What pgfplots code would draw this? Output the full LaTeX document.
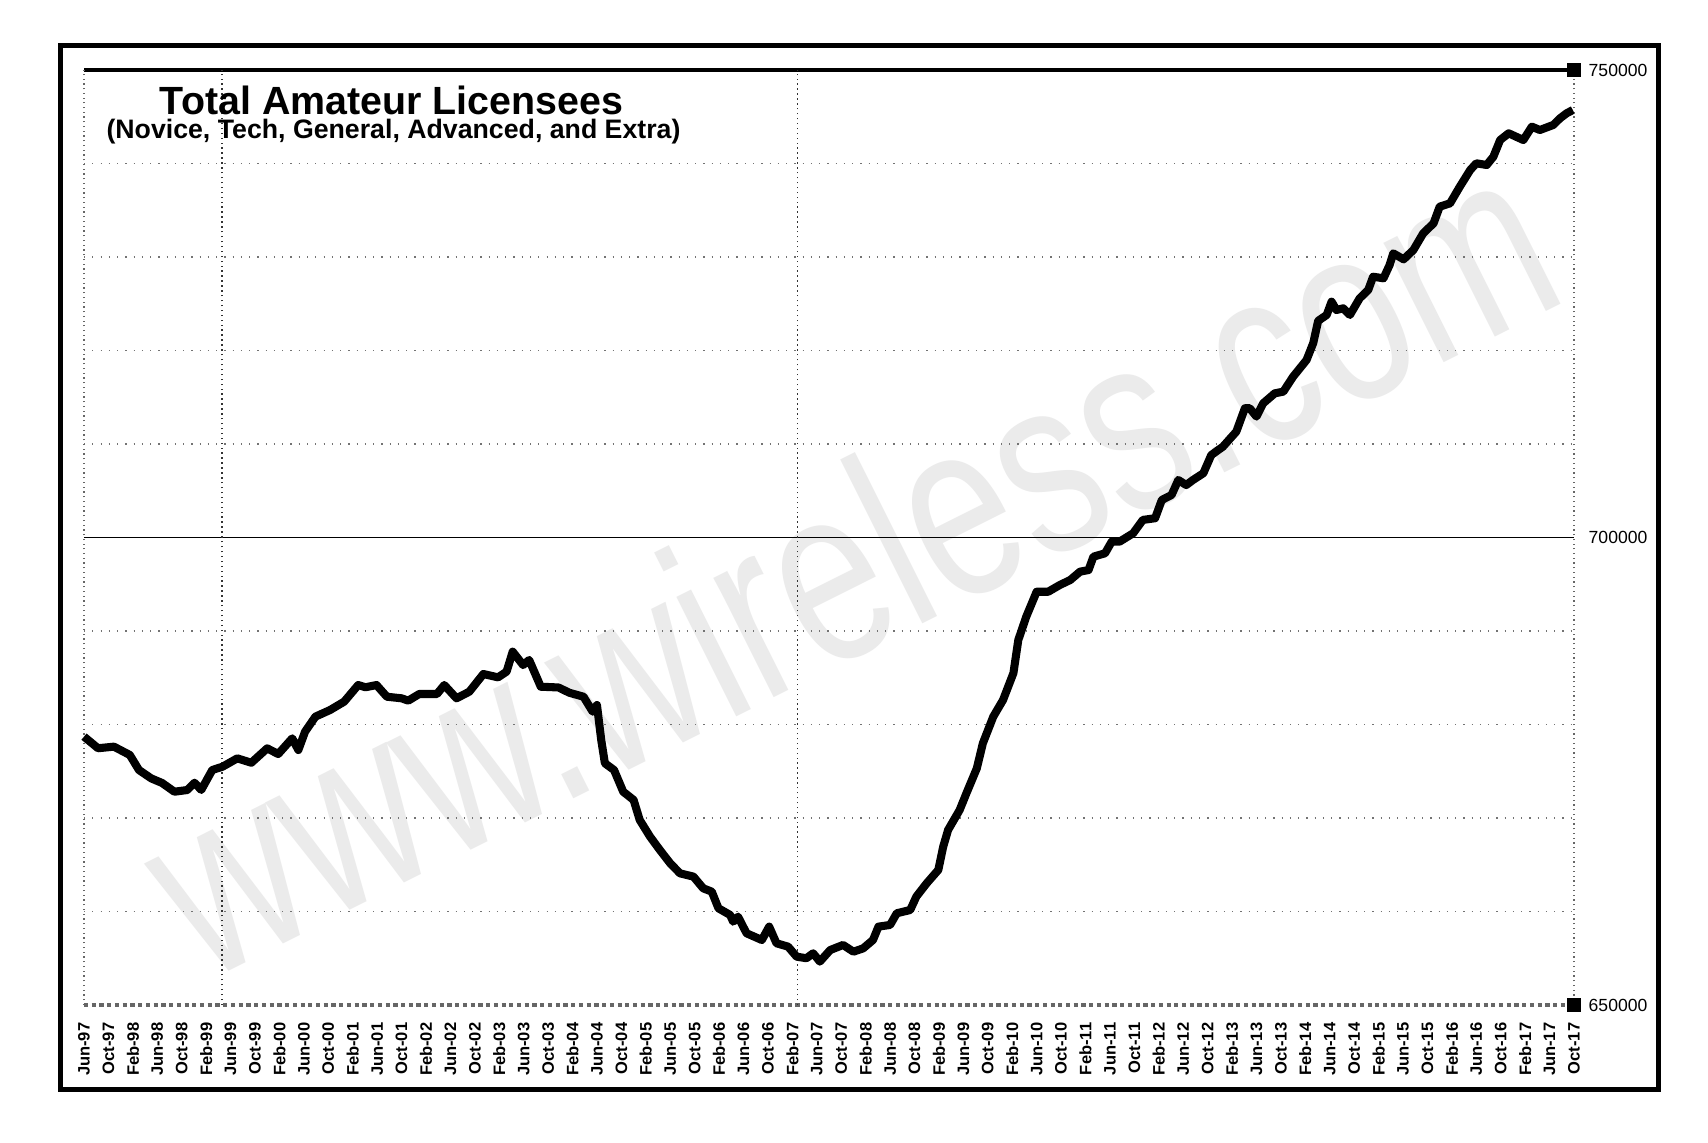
\documentclass[border=0pt]{standalone}
\usepackage{fontspec}
\setmainfont{Liberation Sans}
\usepackage{pgfplots}
\pgfplotsset{compat=1.18}
\begin{document}
\begin{tikzpicture}
\path[use as bounding box, fill=white] (0,0) rectangle (17.08,11.43);
% watermark
\node[text=gray!16, rotate=26.6, xscale=0.74, inner sep=0pt] at (8.48,5.83) {\fontsize{72}{72}\selectfont www.wireless.com};
\begin{axis}[
  at={(0.84cm,1.38cm)}, anchor=south west,
  scale only axis, width=14.90cm, height=9.35cm,
  xmin=0, xmax=244, ymin=650000, ymax=750000,
  scaled y ticks=false,
  clip=false,
  axis line style={draw=none},
  tick style={draw=none},
  major tick length=0pt,
  xtick={0,4,...,244},
  xticklabels={Jun-97,Oct-97,
Feb-98,Jun-98,Oct-98,
Feb-99,Jun-99,Oct-99,
Feb-00,Jun-00,Oct-00,
Feb-01,Jun-01,Oct-01,
Feb-02,Jun-02,Oct-02,
Feb-03,Jun-03,Oct-03,
Feb-04,Jun-04,Oct-04,
Feb-05,Jun-05,Oct-05,
Feb-06,Jun-06,Oct-06,
Feb-07,Jun-07,Oct-07,
Feb-08,Jun-08,Oct-08,
Feb-09,Jun-09,Oct-09,
Feb-10,Jun-10,Oct-10,
Feb-11,Jun-11,Oct-11,
Feb-12,Jun-12,Oct-12,
Feb-13,Jun-13,Oct-13,
Feb-14,Jun-14,Oct-14,
Feb-15,Jun-15,Oct-15,
Feb-16,Jun-16,Oct-16,
Feb-17,Jun-17,Oct-17},
  xticklabel style={rotate=90, anchor=east, inner sep=0pt, font=\fontsize{4.7}{5}\selectfont\bfseries},
  xticklabel shift=1.7mm,
  ytick={650000,700000,750000},
  yticklabels={650000,700000,750000},
  yticklabel pos=right,
  yticklabel style={anchor=west, inner sep=0pt, font=\fontsize{5}{6}\selectfont},
  yticklabel shift=1.4mm,
]
% horizontal minor grid
\foreach \v in {660000,670000,680000,690000,710000,720000,730000,740000}{
  \edef\temp{\noexpand\draw[black!55, line width=0.35pt, dotted] (axis cs:0,\v) -- (axis cs:244,\v);}
  \temp
}
\draw[black, line width=0.5pt] (axis cs:0,700000) -- (axis cs:244,700000);
\draw[black, line width=0.9pt] (axis cs:0,750000) -- (axis cs:244,750000);
\draw[black!60, line width=1.2pt, densely dotted] (axis cs:0,650000) -- (axis cs:244,650000);
% vertical lines
\draw[black!60, line width=0.35pt, densely dotted] (axis cs:0,650000) -- (axis cs:0,750000);
\draw[black!60, line width=0.35pt, densely dotted] (axis cs:244,650000) -- (axis cs:244,750000);
\draw[black!80, line width=0.4pt, densely dotted] (axis cs:22.6,650000) -- (axis cs:22.6,750000);
\draw[black!80, line width=0.4pt, densely dotted] (axis cs:116.8,650000) -- (axis cs:116.8,750000);
\addplot[black, line width=2.3pt, line join=round] coordinates {
(0,678700)(2.3,677460)(4.9,677630)(7.5,676740)(9,675130)(11,674240)(12.8,673740)
(14.8,672810)(16.9,672990)(18.1,673770)(19.2,673000)(21,675130)(22.7,675490)
(25.1,676380)(27.4,675910)(30,677450)(31.8,676840)(34.1,678520)(35.1,677270)
(36.2,679230)(37.9,680840)(40.3,681550)(42.6,682440)(44.9,684220)(46.1,683980)
(47.9,684220)(49.6,682970)(52,682800)(53.1,682550)(54.9,683260)(57.8,683260)
(59,684220)(61,682800)(63.1,683510)(65.4,685400)(67.8,685040)(69.2,685650)
(70.2,687790)(71.9,686360)(72.9,686900)(74.8,684040)(77.7,683960)(79.5,683390)
(81.8,682970)(83.3,681370)(84,682080)(84.7,678340)(85.3,675850)(86.8,675130)
(88.3,672810)(90,671930)(91,669790)(92.7,668000)(94.3,666580)(96,665150)
(97.6,664080)(99.8,663730)(101.4,662480)(102.8,662120)(103.9,660340)(105.8,659630)
(106.3,658910)(107.1,659450)(108.5,657670)(111,656950)(112.2,658380)(113.4,656600)
(115.3,656240)(116.7,655170)(118.3,655000)(119.4,655530)(120.5,654640)(122.2,655880)
(124.3,656420)(126,655700)(127.6,656060)(129.2,656950)(130.1,658380)(132,658560)
(133.1,659810)(135.3,660160)(136.3,661590)(138,663020)(139.9,664440)(140.7,666930)
(141.5,668720)(143.4,670860)(144.5,672640)(146.2,675300)(147.2,678000)(148.9,680840)
(150.5,682620)(152.2,685500)(153,689040)(154.3,691530)(156,694200)(157.9,694200)
(159.8,694920)(161.5,695450)(163.1,696340)(164.5,696520)(165.3,697950)(167.2,698310)
(168.3,699560)(169.6,699560)(171.8,700450)(173.4,701880)(175.4,702060)(176.5,704010)
(178.1,704550)(179.2,706150)(180.5,705610)(181.6,706150)(183.3,706870)(184.6,708820)
(186.5,709710)(188.7,711320)(190.1,713820)(190.9,713820)(192,712930)(193.1,714350)
(195,715420)(196.4,715600)(198,717200)(200.2,718980)(201.3,720800)(202.1,723170)
(203.5,723800)(204.3,725220)(205.1,724330)(206.2,724510)(207.3,723800)(208.9,725580)
(210.3,726470)(211.1,727890)(212.8,727720)(213.8,729140)(214.4,730390)(216.1,729750)
(217.7,730750)(219.3,732530)(221,733600)(222,735380)(223.7,735740)(225.3,737520)
(227,739300)(228,740020)(229.7,739840)(230.8,740730)(231.9,742510)(233.3,743230)
(235.7,742510)(237.1,743940)(238.4,743580)(240.6,744120)(241.7,744830)(242.8,745370)
(243.8,745720)
};
\addplot[only marks, mark=square*, mark size=1.7pt, black] coordinates {(244,750000)(244,650000)};
\end{axis}
% titles
\node[anchor=base, inner sep=0pt] at (3.915,10.28) {\fontsize{11.2}{12}\selectfont\bfseries Total Amateur Licensees};
\node[anchor=base, inner sep=0pt] at (3.935,10.04) {\fontsize{7.6}{8}\selectfont\bfseries (Novice, Tech, General, Advanced, and Extra)};
% frame
\draw[black, line width=0.5mm] (0.60,10.97) rectangle (16.58,0.53);
\end{tikzpicture}
\end{document}
